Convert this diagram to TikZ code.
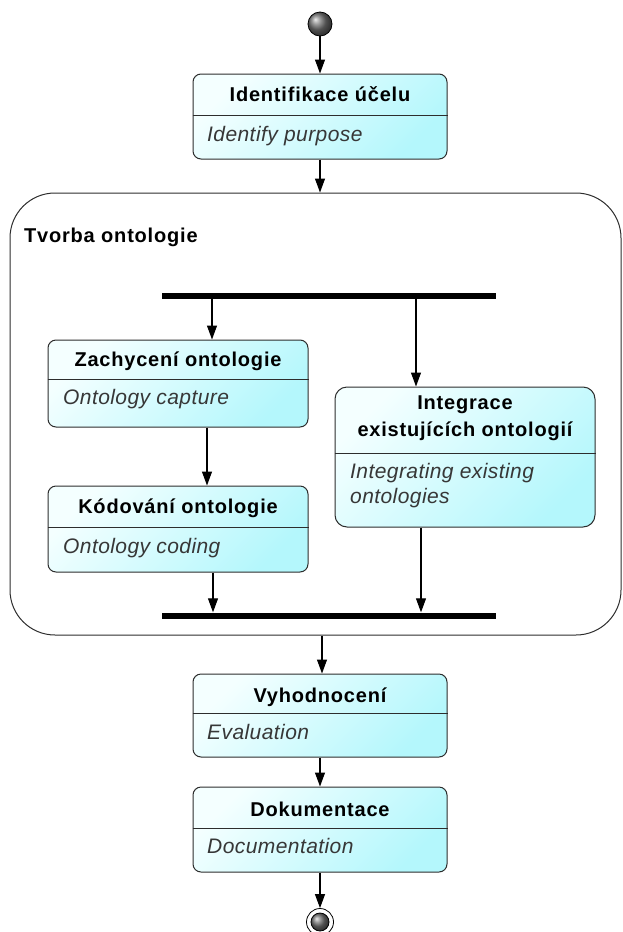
\documentclass[tikz,border=0pt]{standalone}
\usepackage{fontspec}
\setmainfont{Liberation Sans}
\newfontfamily\headfont{Liberation Sans}[LetterSpace=4]
\newfontfamily\notefont{Liberation Sans}[LetterSpace=2]
\usetikzlibrary{arrows.meta,shadings}
\definecolor{actlight}{RGB}{244,255,255}
\definecolor{actdark}{RGB}{180,247,252}
\definecolor{edge}{RGB}{45,45,45}
\definecolor{notegray}{RGB}{55,55,55}

\begin{document}
\begin{tikzpicture}[x=1pt,y=-1pt,
  act/.style={draw=edge, line width=1pt, rounded corners=8pt,
    top color=actlight, bottom color=actdark, shading angle=45,
    inner sep=0pt},
  region/.style={draw=edge, line width=1pt, rounded corners=45pt, inner sep=0pt},
  syncbar/.style={fill=black, draw=none, inner sep=0pt, minimum height=6pt, minimum width=334pt},
  divider/.style={draw=edge, line width=1pt},
  title/.style={font=\headfont\bfseries\fontsize{20}{27}\selectfont, anchor=base, inner sep=0pt},
  note/.style={font=\notefont\itshape\fontsize{21}{25}\selectfont, text=notegray, anchor=base west, inner sep=0pt},
  dot/.style={circle, draw=black, line width=0.8pt, shading=ball, ball color=black!55, inner sep=0pt},
  flow/.style={draw=black, line width=1.1pt, -{Triangle[length=14pt,width=10pt]}}
]
\useasboundingbox (0,0) rectangle (622,932);

% grouping region
\node[region, minimum width=611pt, minimum height=442pt] (grp) at (315.5,414) {};
\node[title, anchor=base west] (grplabel) at (24,242) {Tvorba ontologie};

% initial and final states
\node[dot, minimum size=24pt] (start) at (320,24) {};
\node[circle, draw=black, line width=0.8pt, fill=white, minimum size=27pt, inner sep=0pt] (stop) at (320,922) {};
\node[dot, minimum size=18pt] (stopcore) at (stop) {};

% synchronisation bars
\node[syncbar] (fork) at (329,296) {};
\node[syncbar] (join) at (329,615.5) {};

% actions
\node[act, minimum width=254pt, minimum height=85pt] (ident) at (320,116.5) {};
\draw[divider] (ident.west |- 0,115) -- (ident.east |- 0,115);
\node[title] (identT) at (320,101) {Identifikace účelu};
\node[note] (identS) at (207,141) {Identify purpose};

\node[act, minimum width=260pt, minimum height=87pt] (capt) at (178,383.5) {};
\draw[divider] (capt.west |- 0,379) -- (capt.east |- 0,379);
\node[title] (captT) at (178,366) {Zachycení ontologie};
\node[note] (captS) at (63,404) {Ontology capture};

\node[act, minimum width=260pt, minimum height=86pt] (code) at (178,529) {};
\draw[divider] (code.west |- 0,527) -- (code.east |- 0,527);
\node[title] (codeT) at (178,513) {Kódování ontologie};
\node[note] (codeS) at (63,553) {Ontology coding};

\node[act, rounded corners=12pt, minimum width=260pt, minimum height=140pt] (integ) at (465,457) {};
\draw[divider] (integ.west |- 0,453) -- (integ.east |- 0,453);
\node[title] (integT1) at (465,409) {Integrace};
\node[title] (integT2) at (465,436) {existujících ontologií};
\node[note] (integS1) at (350,478) {Integrating existing};
\node[note] (integS2) at (350,503) {ontologies};

\node[act, minimum width=254pt, minimum height=83pt] (eval) at (320,715.5) {};
\draw[divider] (eval.west |- 0,713) -- (eval.east |- 0,713);
\node[title] (evalT) at (320,702) {Vyhodnocení};
\node[note] (evalS) at (207,739) {Evaluation};

\node[act, minimum width=254pt, minimum height=85pt] (docu) at (320,829.5) {};
\draw[divider] (docu.west |- 0,828) -- (docu.east |- 0,828);
\node[title] (docuT) at (320,816) {Dokumentace};
\node[note] (docuS) at (207,853) {Documentation};

% connector columns
\coordinate (cA) at (212,0);
\coordinate (cB) at (416,0);
\coordinate (cC) at (207,0);
\coordinate (cD) at (213,0);
\coordinate (cE) at (421,0);
\coordinate (cF) at (322,0);

% control flow
\draw[flow] (start) -- (ident);
\draw[flow] (ident.south) -- (ident |- grp.north);
\draw[flow] (fork.south -| cA) -- (capt.north -| cA);
\draw[flow] (fork.south -| cB) -- (integ.north -| cB);
\draw[flow] (capt.south -| cC) -- (code.north -| cC);
\draw[flow] (code.south -| cD) -- (join.north -| cD);
\draw[flow] (integ.south -| cE) -- (join.north -| cE);
\draw[flow] (grp.south -| cF) -- (eval.north -| cF);
\draw[flow] (eval) -- (docu);
\draw[flow] (docu) -- (stop);
\end{tikzpicture}
\end{document}
